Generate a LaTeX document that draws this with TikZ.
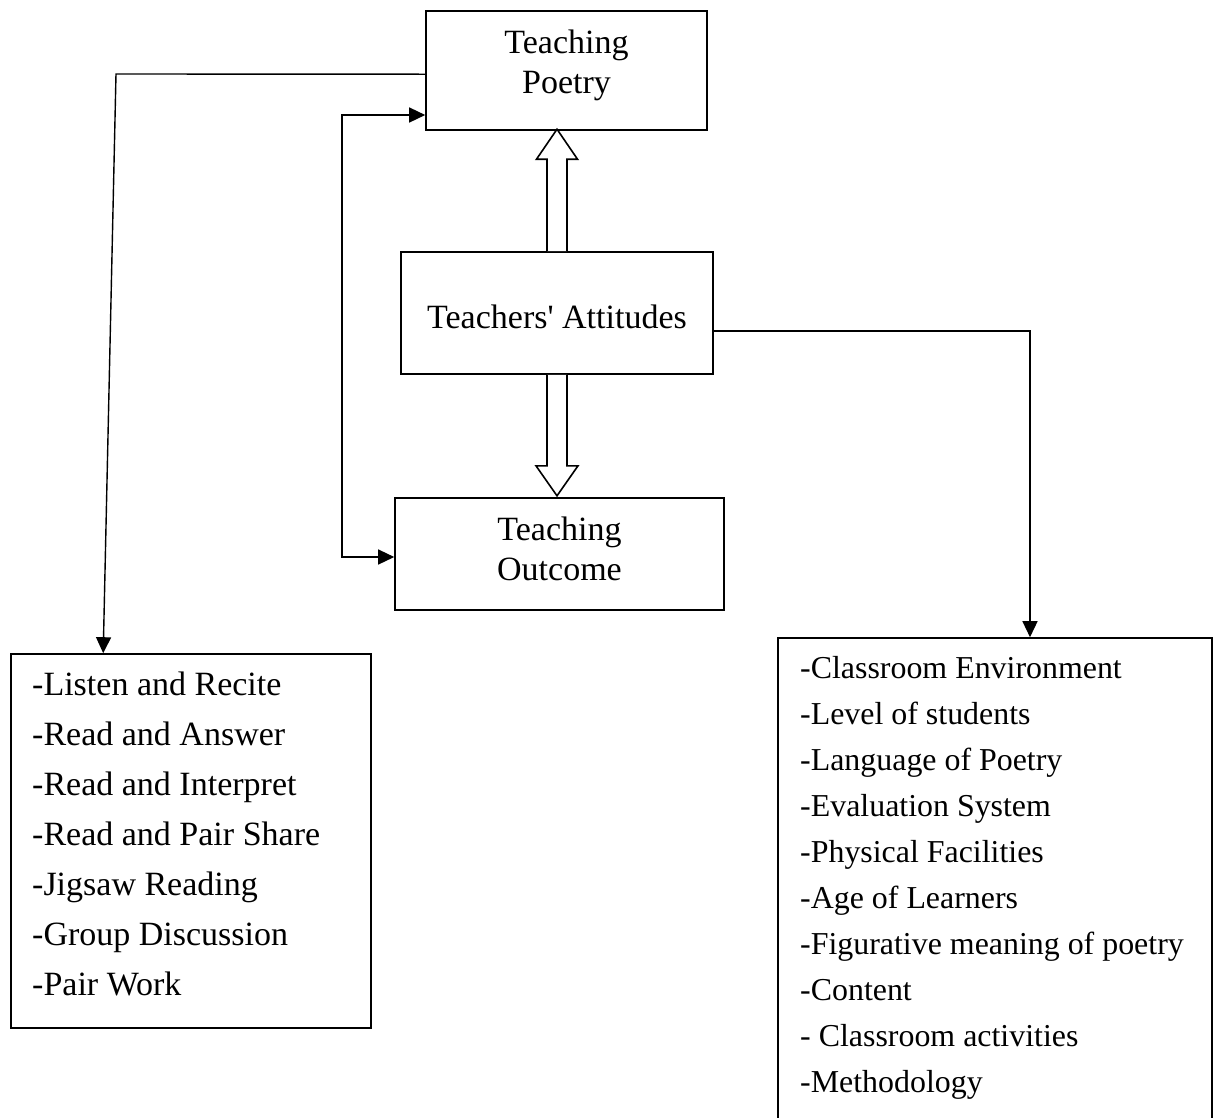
\documentclass[tikz,border=0pt]{standalone}
\usepackage{fontspec}
\setmainfont{Liberation Serif}
\usetikzlibrary{arrows.meta,calc}
\begin{document}
\begin{tikzpicture}[x=1pt,y=-1pt,
  box/.style={draw, line width=1.6pt, rectangle, inner sep=0pt},
  conn/.style={line width=1.4pt},
  tip/.style={-{Triangle[length=16pt,width=15pt]}},
  hollow/.style={draw, line width=1.6pt, fill=white, line join=miter},
  ctext/.style={inner sep=0pt, anchor=base, align=center, font=\fontsize{34pt}{40pt}\selectfont},
  ltext/.style={inner sep=0pt, anchor=base west, align=left, font=\fontsize{34pt}{50pt}\selectfont},
  rtext/.style={inner sep=0pt, anchor=base west, align=left, font=\fontsize{31.9pt}{46pt}\selectfont}]
\useasboundingbox (0,0) rectangle (1217,1117);
\fill[white] (0,0) rectangle (1217,1117);
\clip (0,0) rectangle (1217,1117);

% boxes
\node[box, minimum width=281pt, minimum height=119pt] (poetry) at (566.5,70.5) {};
\node[box, minimum width=312pt, minimum height=122pt] (att) at (557,313) {};
\node[box, minimum width=329pt, minimum height=112pt] (outc) at (559.5,554) {};
\node[box, minimum width=360pt, minimum height=374pt] (left) at (191,841) {};
\node[box, minimum width=434pt, minimum height=502pt] (right) at (995,889) {};

% texts (anchor base = baseline of the last line)
\node[ctext] (tpoetry) at (566.5,93) {Teaching\\Poetry};
\node[ctext] (tatt) at (557,328.3) {Teachers\textquotesingle{} Attitudes};
\node[ctext] (toutc) at (559.5,580) {Teaching\\Outcome};
\node[ltext] (tleft) at (32,995) {-Listen and Recite\\-Read and Answer\\-Read and Interpret\\-Read and Pair Share\\-Jigsaw Reading\\-Group Discussion\\-Pair Work};
\node[rtext] (tright) at (800,1092) {-Classroom Environment\\-Level of students\\-Language of Poetry\\-Evaluation System\\-Physical Facilities\\-Age of Learners\\-Figurative meaning of poetry\\-Content\\- Classroom activities\\-Methodology};

% hollow arrows
\draw[hollow] ($(att.north)+(-10,0)$) -- ++(0,-92) -- ++(-10.5,0) -- ($(att.north)+(0,-122)$)
  -- ($(att.north)+(20.5,-92)$) -- ++(-10.5,0) -- ($(att.north)+(10,0)$);
\draw[hollow] ($(att.south)+(-10,0)$) -- ++(0,91) -- ++(-11,0) -- ($(att.south)+(0,121)$)
  -- ($(att.south)+(21,91)$) -- ++(-11,0) -- ($(att.south)+(10,0)$);

% connectors
\coordinate (lstart) at ($(poetry.north west)+(0,64)$);
\coordinate (lc) at (116,74);
\coordinate (lend) at ($(left.north west)+(93,0)$);
\draw[conn,tip] (lstart) -- (lc) -- (lend);

\coordinate (fb1) at (342,115);
\coordinate (fb2) at (342,557);
\draw[conn,{Triangle[length=16pt,width=15pt]}-{Triangle[length=16pt,width=15pt]}]
  (poetry.west |- fb1) -- (fb1) -- (fb2) -- (outc.west |- fb2);

\coordinate (rc) at (1030,331);
\draw[conn,tip] (att.east |- rc) -- (rc) -- (right.north -| rc);
\end{tikzpicture}
\end{document}
